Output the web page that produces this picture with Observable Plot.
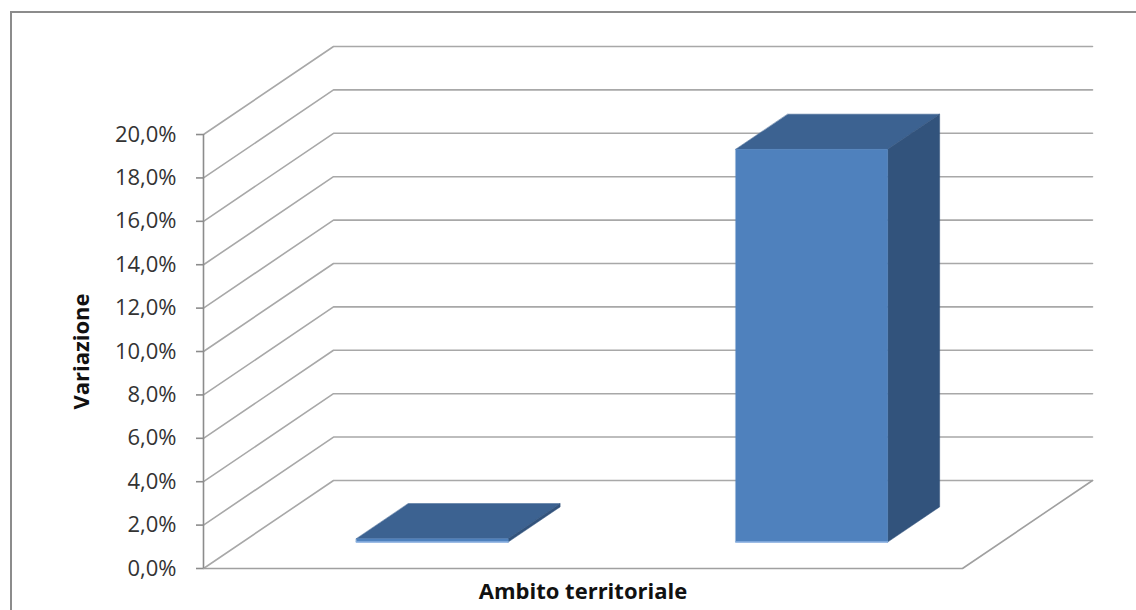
<!DOCTYPE html>
<html><head><meta charset="utf-8">
<script src="https://cdn.jsdelivr.net/npm/d3@7"></script>
<script src="https://cdn.jsdelivr.net/npm/@observablehq/plot@0.6"></script>
<style>
html,body{margin:0;padding:0;background:#fff;overflow:hidden;width:1136px;height:610px}
#frame{position:absolute;left:10px;top:11px;width:1140px;height:620px;border:2px solid #8c8c8c;box-sizing:border-box}
#chart{position:absolute;left:0;top:0}
</style></head><body>
<div id="frame"></div><div id="chart"></div>
<script>
// Data
const categories = ["Ambito 1", "Ambito 2"];
const values = [0.15, 18.1];               // percent
const yTicks = [0, 2, 4, 6, 8, 10, 12, 14, 16, 18, 20];
const xLabel = "Ambito territoriale";
const yLabel = "Variazione";

// Oblique 3D projection parameters (in data units)
const DX = 0.3426, DY = 4.057;   // depth offset of the back wall
const D0 = 0.30, D1 = 0.70;      // bar depth span (fraction of floor depth)
const HW = 0.2;                  // bar half width (category units)
const XMAX = categories.length + DX;
const YMAX = yTicks[yTicks.length - 1];

const pt = (u, v, d, id) => ({x: u + d * DX, y: v + d * DY, id});

const fronts = [], tops = [], sides = [], edges = [];
values.forEach((v, i) => {
  const u = i + 0.5, id = categories[i];
  fronts.push(pt(u - HW, 0, D0, id), pt(u + HW, 0, D0, id), pt(u + HW, v, D0, id), pt(u - HW, v, D0, id));
  tops.push(pt(u - HW, v, D0, id), pt(u + HW, v, D0, id), pt(u + HW, v, D1, id), pt(u - HW, v, D1, id));
  sides.push(pt(u + HW, 0, D0, id), pt(u + HW, 0, D1, id), pt(u + HW, v, D1, id), pt(u + HW, v, D0, id));
  edges.push(pt(u - HW, 0, D0, id), pt(u + HW, 0, D0, id));
});

const grid = [];
yTicks.forEach(t => {
  grid.push({x: 0, y: t, id: t}, {x: DX, y: t + DY, id: t}, {x: XMAX, y: t + DY, id: t});
});
const floorFront = [
  {x: 0, y: 0}, {x: categories.length, y: 0}, {x: XMAX, y: DY}
];

const fmt = d => d.toFixed(1).replace(".", ",") + "%";

const chart = Plot.plot({
  width: 1136, height: 610,
  marginLeft: 203, marginRight: 44, marginTop: 46, marginBottom: 42,
  x: {type: "linear", domain: [0, XMAX], axis: null},
  y: {type: "linear", domain: [0, YMAX + DY], axis: null},
  style: {fontFamily: "'Open Sans', Lato, sans-serif", background: "transparent"},
  marks: [
    Plot.line(grid, {x: "x", y: "y", z: "id", stroke: "#a8a8a8", strokeWidth: 1.6}),
    Plot.line(floorFront, {x: "x", y: "y", stroke: "#a0a0a0", strokeWidth: 1.6}),
    Plot.ruleX([0], {y1: 0, y2: YMAX, stroke: "#8c8c8c", strokeWidth: 1.6}),
    Plot.axisY(yTicks, {anchor: "left", label: null, tickSize: 7, tickPadding: 20, tickFormat: fmt,
      fontSize: 22, stroke: "#8c8c8c", strokeWidth: 1.6, fill: "#333"}),
    Plot.line(tops, {x: "x", y: "y", z: "id", fill: "#3c6291", stroke: "#3c6291", strokeWidth: 0.5, curve: "linear-closed"}),
    Plot.line(sides, {x: "x", y: "y", z: "id", fill: "#32537c", stroke: "#32537c", strokeWidth: 0.5, curve: "linear-closed"}),
    Plot.line(fronts, {x: "x", y: "y", z: "id", fill: "#4f81bd", stroke: "#4f81bd", strokeWidth: 0.5, curve: "linear-closed"}),
    Plot.line(edges, {x: "x", y: "y", z: "id", stroke: "#8db3e2", strokeWidth: 1.5}),
    Plot.text([xLabel], {x: () => categories.length / 2, frameAnchor: "bottom", dy: 23,
      textAnchor: "middle", lineAnchor: "middle",
      text: d => d, fontWeight: "bold", fontSize: 22, fill: "#111"}),
    Plot.text([yLabel], {y: () => YMAX / 2, frameAnchor: "left", dx: -122, rotate: -90,
      textAnchor: "middle", lineAnchor: "middle",
      text: d => d, fontWeight: "bold", fontSize: 22, fill: "#111"})
  ]
});
document.getElementById("chart").appendChild(chart);
</script>
</body></html>
